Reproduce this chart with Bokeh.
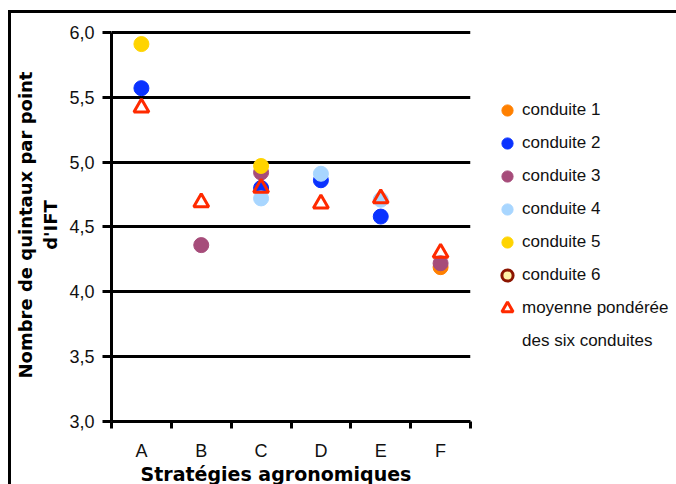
from bokeh.plotting import figure
from bokeh.models import FixedTicker, CustomJSTickFormatter, Legend, LegendItem, Title
from bokeh.embed import file_html
from bokeh.resources import INLINE

nan = float("nan")

# Agronomic strategies (x categories)
strategies = ["A", "B", "C", "D", "E", "F"]

# Yield (quintals) per IFT point, by management system ("conduite")
conduite_1 = [nan, nan, nan, nan, nan, 4.19]
conduite_2 = [5.57, nan, 4.80, 4.86, 4.58, nan]
conduite_3 = [nan, 4.36, 4.92, nan, nan, 4.22]
conduite_4 = [nan, nan, 4.72, 4.91, 4.71, nan]
conduite_5 = [5.91, nan, 4.97, nan, nan, nan]
conduite_6 = [nan, nan, nan, nan, nan, nan]
moyenne_ponderee = [5.42, 4.69, 4.80, 4.68, 4.72, 4.30]

y_ticks = [3.0, 3.5, 4.0, 4.5, 5.0, 5.5, 6.0]

series = [
    ("conduite 1", conduite_1, "#FF8000"),
    ("conduite 2", conduite_2, "#0A32FF"),
    ("conduite 3", conduite_3, "#A64C7A"),
    ("conduite 4", conduite_4, "#A8D6FF"),
    ("conduite 5", conduite_5, "#FFD400"),
]

n = len(strategies)
x_pos = [i + 0.5 for i in range(n)]

p = figure(frame_width=359, frame_height=393,
           x_range=(0, n), y_range=(y_ticks[0], y_ticks[-1] + 0.03),
           output_backend="svg", toolbar_location=None,
           min_border_left=100, min_border_right=206,
           min_border_top=15, min_border_bottom=63)
p.outline_line_color = None
p.background_fill_color = "white"
p.border_fill_color = "white"
# chart-area border: top and left edges
p.styles = {"border-top": "3px solid black", "border-left": "3px solid black",
            "margin-left": "8px", "margin-top": "10px"}

# horizontal grid
p.xgrid.visible = False
p.ygrid.ticker = FixedTicker(ticks=y_ticks)
p.ygrid.grid_line_color = "black"
p.ygrid.grid_line_width = 3

# y axis
ya = p.yaxis[0]
ya.bounds = (y_ticks[0], y_ticks[-1])
ya.ticker = FixedTicker(ticks=y_ticks)
ya.formatter = CustomJSTickFormatter(code="return tick.toFixed(1).replace('.', ',')")
ya.axis_line_width = 3
ya.major_tick_line_width = 3
ya.major_tick_out = 9
ya.major_tick_in = 0
ya.minor_tick_line_color = None
ya.major_label_text_font = "Liberation Sans"
ya.major_label_text_font_size = "18px"
ya.major_label_text_color = "#111111"
ya.major_label_standoff = 8
ya.axis_label = "Nombre de quintaux par point\nd'IFT"
ya.axis_label_text_font = "DejaVu Sans"
ya.axis_label_text_font_style = "bold"
ya.axis_label_text_font_size = "18px"
ya.axis_label_text_color = "black"
ya.axis_label_standoff = 5

# x axis: labels at category centres, tick marks at boundaries
xa = p.xaxis[0]
xa.ticker = FixedTicker(ticks=x_pos, minor_ticks=list(range(n + 1)))
xa.formatter = CustomJSTickFormatter(args=dict(cats=strategies),
                                     code="return cats[Math.floor(tick)]")
xa.axis_line_width = 3
xa.major_tick_line_color = None
xa.major_tick_out = 7
xa.major_tick_in = 0
xa.minor_tick_line_color = "black"
xa.minor_tick_line_width = 3
xa.minor_tick_out = 7
xa.minor_tick_in = 0
xa.major_label_text_font = "Liberation Sans"
xa.major_label_text_font_size = "18px"
xa.major_label_text_color = "#111111"
xa.major_label_standoff = 12

# x axis title, set slightly left of the frame centre
p.add_layout(Title(text="Stratégies agronomiques", align="left", offset=29,
                   standoff=-5, text_font="DejaVu Sans", text_font_style="bold",
                   text_font_size="19px", text_color="black"), "below")

items = []
for name, vals, color in series:
    r = p.scatter(x=x_pos, y=vals, marker="circle", size=15,
                  fill_color=color, line_color=color)
    items.append(LegendItem(label=name, renderers=[r]))

r6 = p.scatter(x=x_pos, y=conduite_6, marker="circle", size=15,
               fill_color="#FFF3A8", line_color="#8B1500", line_width=3)
items.append(LegendItem(label="conduite 6", renderers=[r6]))

rm = p.scatter(x=x_pos, y=moyenne_ponderee, marker="triangle", size=15,
               fill_color=None, line_color="#FF2A00", line_width=3)
items.append(LegendItem(label="moyenne pondérée", renderers=[rm]))
items.append(LegendItem(label="des six conduites", renderers=[]))

legend = Legend(items=items, location=(23, 66),
                glyph_width=28, glyph_height=28, label_height=28, spacing=5,
                label_standoff=1, padding=0, margin=0,
                border_line_color=None, background_fill_alpha=0,
                label_text_font="Liberation Sans", label_text_font_size="17px",
                label_text_color="#111111")
p.add_layout(legend, "right")

open("out.html", "w").write(file_html(p, INLINE))
